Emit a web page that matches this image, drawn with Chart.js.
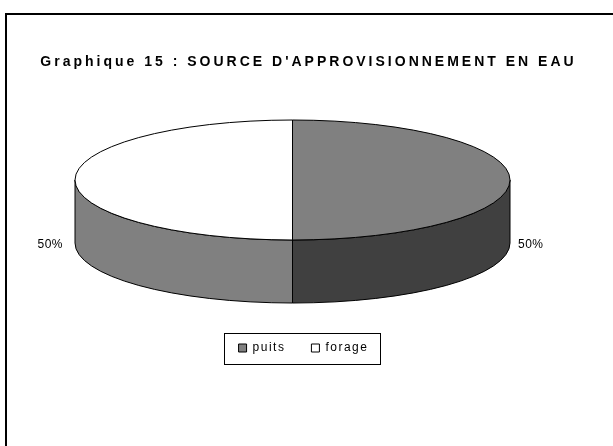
<!DOCTYPE html>
<html>
<head>
<meta charset="utf-8">
<script src="https://cdn.jsdelivr.net/npm/chart.js@4.4.1/dist/chart.umd.min.js"></script>
<style>
  html, body { margin: 0; padding: 0; background: #fff; }
  #wrap { width: 613px; height: 446px; }
</style>
</head>
<body>
<div id="wrap"><canvas id="waterChart" width="613" height="446"></canvas></div>
<script>
const chartTitle = "Graphique 15 : SOURCE D'APPROVISIONNEMENT EN EAU";
const categories = ['puits', 'forage'];
const shares = [50, 50];

const topColors = ['#808080', '#ffffff'];
const wallColors = ['#404040', '#808080'];

// how the flat pie is projected on screen (tilted disc)
const view = { cx: 292.5, cy: 180, rx: 217.5, ry: 60, depth: 63 };
const FONT = "'Liberation Sans', Arial, sans-serif";

// part of an arc [start, end] that lies on the front half of the disc
function frontPart(start, end) {
    const parts = [];
    for (let k = -1; k <= 1; k++) {
        const a = Math.max(start + k * 2 * Math.PI, 0);
        const b = Math.min(end + k * 2 * Math.PI, Math.PI);
        if (b > a) parts.push([a, b]);
    }
    return parts;
}

const frame = {
    id: 'frame',
    beforeUpdate(chart) {
        chart.ctx.letterSpacing = '1.5px';
    },
    beforeDraw(chart) {
        const ctx = chart.ctx;
        ctx.save();
        ctx.fillStyle = '#fff';
        ctx.fillRect(0, 0, chart.width, chart.height);
        ctx.strokeStyle = '#000';
        ctx.lineWidth = 2;
        ctx.strokeRect(6, 14, 700, 600);
        ctx.restore();
        ctx.letterSpacing = '1.5px';
    },
    afterDraw(chart) {
        const ctx = chart.ctx;
        ctx.save();
        // title, Excel-like wide tracking
        ctx.letterSpacing = '3px';
        ctx.font = 'bold 14px ' + FONT;
        ctx.fillStyle = '#000';
        ctx.textAlign = 'center';
        ctx.textBaseline = 'middle';
        ctx.fillText(chartTitle, 308.5, 62);

        // box around the legend
        const hb = chart.legend.legendHitBoxes;
        if (hb && hb.length) {
            const last = hb[hb.length - 1];
            const left = Math.round(hb[0].left - 15);
            const right = Math.round(last.left + last.width + 12);
            const midY = hb[0].top + hb[0].height / 2;
            const top = Math.round(midY - 15.5);
            ctx.strokeStyle = '#000';
            ctx.lineWidth = 1;
            ctx.strokeRect(left + 0.5, top + 0.5, right - left, 31);
        }
        ctx.restore();
    }
};

const pie3d = {
    id: 'pie3d',
    beforeDatasetsDraw(chart) {
        const ctx = chart.ctx;
        const meta = chart.getDatasetMeta(0);
        const { cx, cy, rx, ry, depth } = view;
        ctx.letterSpacing = '0px';

        // side walls
        meta.data.forEach((arc, i) => {
            frontPart(arc.startAngle, arc.endAngle).forEach(([a, b]) => {
                ctx.beginPath();
                ctx.ellipse(cx, cy, rx, ry, 0, a, b);
                ctx.ellipse(cx, cy + depth, rx, ry, 0, b, a, true);
                ctx.closePath();
                ctx.fillStyle = wallColors[i];
                ctx.fill();
                ctx.strokeStyle = '#000';
                ctx.lineWidth = 1;
                ctx.stroke();
            });
        });

        // squash the library's circle into the top face
        const arc0 = meta.data[0];
        const R = arc0.outerRadius;
        ctx.save();
        ctx.translate(cx, cy);
        ctx.scale(rx / R, ry / R);
        ctx.translate(-arc0.x, -arc0.y);
    },
    afterDatasetsDraw(chart) {
        const ctx = chart.ctx;
        ctx.restore();
        const meta = chart.getDatasetMeta(0);
        const { cx, cy, rx, ry, depth } = view;
        const total = shares.reduce((s, v) => s + v, 0);

        ctx.save();
        ctx.strokeStyle = '#000';
        ctx.lineWidth = 1;
        meta.data.forEach((arc) => {
            ctx.beginPath();
            ctx.moveTo(cx, cy);
            ctx.ellipse(cx, cy, rx, ry, 0, arc.startAngle, arc.endAngle);
            ctx.closePath();
            ctx.stroke();
        });

        // percentage labels
        ctx.font = '12px ' + FONT;
        ctx.fillStyle = '#000';
        ctx.textBaseline = 'middle';
        ctx.letterSpacing = '0.5px';
        meta.data.forEach((arc, i) => {
            const mid = (arc.startAngle + arc.endAngle) / 2;
            const c = Math.cos(mid);
            ctx.textAlign = c >= 0 ? 'left' : 'right';
            const x = cx + (rx + (c >= 0 ? 8 : 12)) * c;
            const y = cy + ry * Math.sin(mid) + depth + 2;
            ctx.fillText(Math.round(shares[i] / total * 100) + '%', x, y);
        });
        ctx.restore();
    }
};

new Chart(document.getElementById('waterChart'), {
    type: 'pie',
    data: {
        labels: categories,
        datasets: [{
            data: shares,
            backgroundColor: topColors,
            borderWidth: 0
        }]
    },
    options: {
        responsive: false,
        animation: false,
        layout: { padding: { top: 80, bottom: 82, left: 0, right: 6 } },
        plugins: {
            title: { display: false },
            legend: {
                position: 'bottom',
                labels: {
                    color: '#000',
                    font: { family: FONT, size: 12 },
                    boxWidth: 8,
                    boxHeight: 8,
                    padding: 26,
                    generateLabels(chart) {
                        const items = Chart.overrides.pie.plugins.legend.labels.generateLabels(chart);
                        items.forEach(it => { it.strokeStyle = '#000'; it.lineWidth = 1; });
                        return items;
                    }
                }
            },
            tooltip: { enabled: false }
        }
    },
    plugins: [frame, pie3d]
});
</script>
</body>
</html>
